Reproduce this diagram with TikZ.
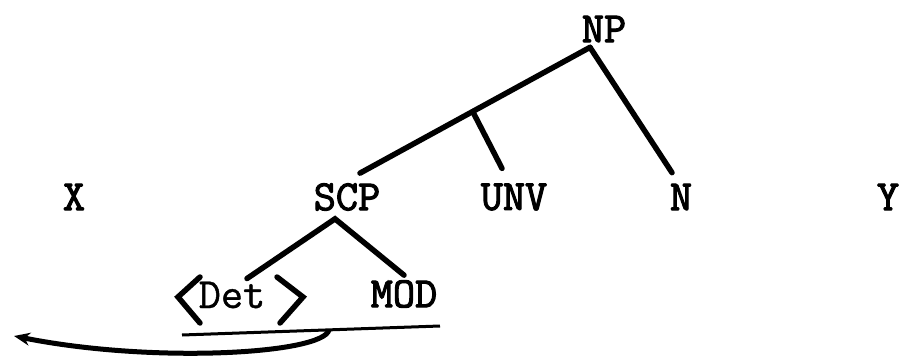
\documentclass[tikz,border=0pt]{standalone}
\usepackage{fontspec}
\newfontfamily\typer{Latin Modern Mono}[FakeBold=2.5]
\newfontfamily\typerlight{Latin Modern Mono}[FakeBold=1]
\usetikzlibrary{arrows.meta,positioning}

\begin{document}
\begin{tikzpicture}[x=1pt,y=-1pt,node distance=167pt,on grid,
  lbl/.style={font=\typer\fontsize{43}{43}\selectfont,inner sep=0pt},
  branch/.style={line width=5.5pt,line cap=round}]

  \useasboundingbox (0,0) rectangle (901,358);

  \node[lbl] (NP) at (604,29) {NP};
  \node[lbl] (X) at (74,197) {X};
  \node[lbl] (SCP) at (347,197) {SCP};
  \node[lbl] (UNV) [right=of SCP] {UNV};
  \node[lbl] (N) [right=of UNV] {N};
  \node[lbl] (Y) at (888,197) {Y};
  \node[lbl,font=\typerlight\fontsize{43}{43}\selectfont] (Det) at (232,295) {Det};
  \node[lbl] (MOD) at (404,294) {MOD};

  \coordinate (apex) at ([xshift=-14pt,yshift=-5pt]NP.south);
  \coordinate (foot) at ([xshift=-12pt,yshift=-8pt]SCP.south);
  \coordinate (target) at (14,336);

  % tree
  \draw[branch] (apex) -- coordinate[pos=.51] (fork) ([xshift=13pt,yshift=10pt]SCP.north);
  \draw[branch] (fork) -- ([xshift=-12pt,yshift=15pt]UNV.north);
  \draw[branch] (apex) -- ([xshift=-9pt,yshift=11pt]N.north);
  \draw[branch] ([xshift=15pt,yshift=3pt]Det.north) -- (foot) -- ([yshift=5pt]MOD.north);

  % angle brackets round Det
  \draw[branch] ([xshift=-32pt,yshift=18pt]Det.center) -- ++(-22pt,-20pt) -- ++(22pt,-26pt);
  \draw[branch] ([xshift=45pt,yshift=18pt]Det.center) -- ++(26pt,-20pt) -- ++(-23pt,-26pt);

  % underline and moved element
  \draw[line width=3pt] ([xshift=-50pt,yshift=-40pt]Det.center) -- coordinate[pos=.57] (ul) ([xshift=36pt,yshift=-32pt]MOD.center);
  \draw[line width=5pt,-{Stealth[length=16pt,width=13pt]}]
    (ul) .. controls +(-6pt,-24pt) and +(140pt,-28pt) .. (target);

\end{tikzpicture}
\end{document}
